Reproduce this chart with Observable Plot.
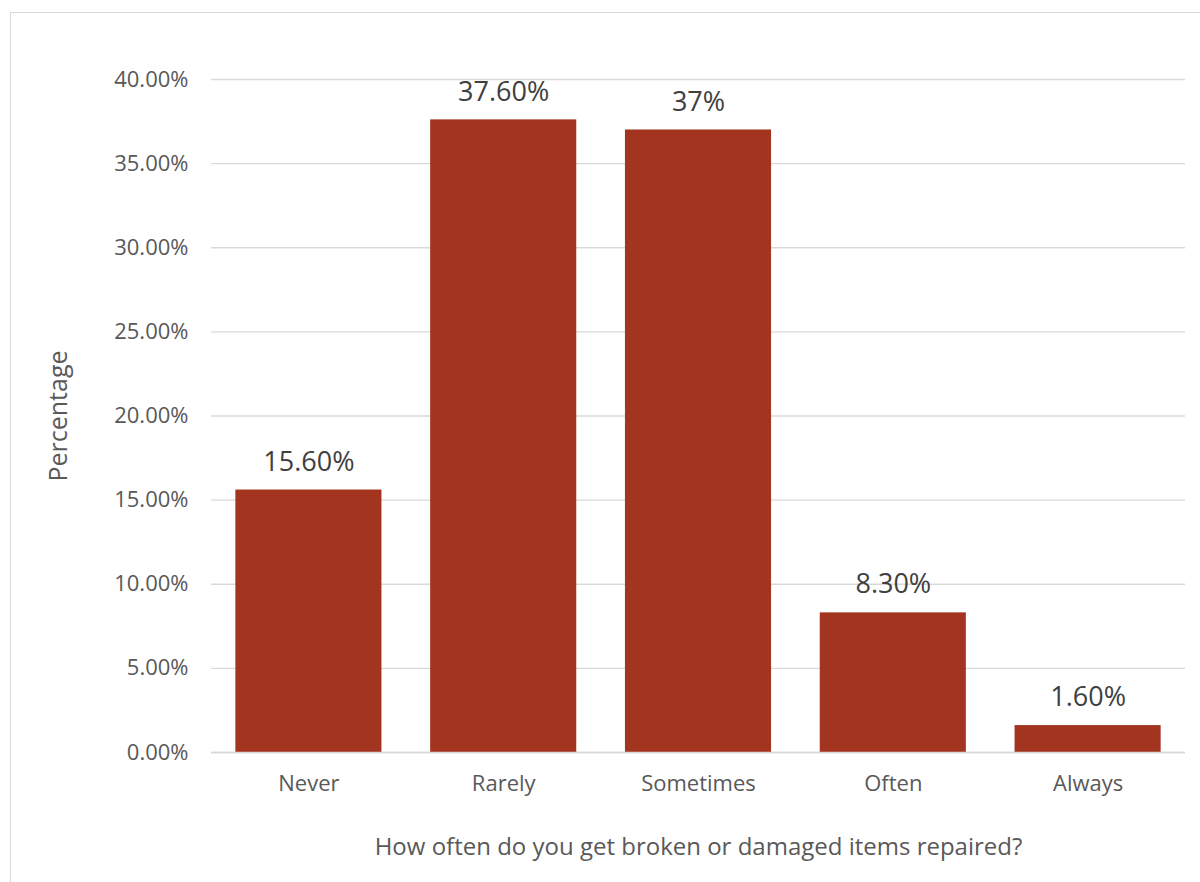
<!DOCTYPE html>
<html>
<head>
<meta charset="utf-8">
<script src="https://cdn.jsdelivr.net/npm/d3@7"></script>
<script src="https://cdn.jsdelivr.net/npm/@observablehq/plot@0.6"></script>
<style>
  html, body { margin: 0; padding: 0; background: #fff; overflow: hidden; }
  #frame { position: absolute; left: 10px; top: 12px; width: 1300px; height: 1000px; border: 1.5px solid #d9d9d9; box-sizing: border-box; }
  #chart { position: absolute; left: 0; top: 0; }
  #chart svg { font-family: "Open Sans", sans-serif; }
  #chart svg [aria-label="x-axis label"] text { font-size: 24px; }
  #chart svg [aria-label="y-axis label"] text { font-size: 25px; }
</style>
</head>
<body>
<div id="frame"></div>
<div id="chart"></div>
<script>
const categories = ["Never", "Rarely", "Sometimes", "Often", "Always"];
const values = [0.156, 0.376, 0.37, 0.083, 0.016];
const valueLabels = ["15.60%", "37.60%", "37%", "8.30%", "1.60%"];
const yTicks = [0, 0.05, 0.10, 0.15, 0.20, 0.25, 0.30, 0.35, 0.40];

const data = categories.map((c, i) => ({category: c, value: values[i], label: valueLabels[i]}));

const chart = Plot.plot({
  width: 1200,
  height: 882,
  marginLeft: 211,
  marginRight: 15,
  marginTop: 79,
  marginBottom: 130,
  style: {fontFamily: "'Open Sans', sans-serif", background: "transparent"},
  x: {domain: categories, paddingInner: 0.25, paddingOuter: 0.125, round: false},
  y: {domain: [0, 0.4]},
  marks: [
    Plot.gridY(yTicks, {stroke: "#d9d9d9", strokeOpacity: 1, strokeWidth: 1.3}),
    Plot.barY(data, {x: "category", y: "value", fill: "#A33520"}),
    Plot.ruleY([0], {stroke: "#d9d9d9", strokeWidth: 1.5}),
    Plot.text(data, {x: "category", y: "value", text: "label", dy: -28, fontSize: 27, fill: "#404040"}),
    Plot.axisY({ticks: yTicks, tickFormat: d3.format(".2%"), tickSize: 0, tickPadding: 23, fontSize: 22, color: "#595959",
      label: "Percentage", labelAnchor: "center", labelArrow: "none", labelOffset: 162}),
    Plot.axisX({tickSize: 0, tickPadding: 23, fontSize: 22, color: "#595959",
      label: "How often do you get broken or damaged items repaired?", labelAnchor: "center", labelArrow: "none", labelOffset: 102})
  ]
});
document.getElementById("chart").appendChild(chart);
</script>
</body>
</html>
